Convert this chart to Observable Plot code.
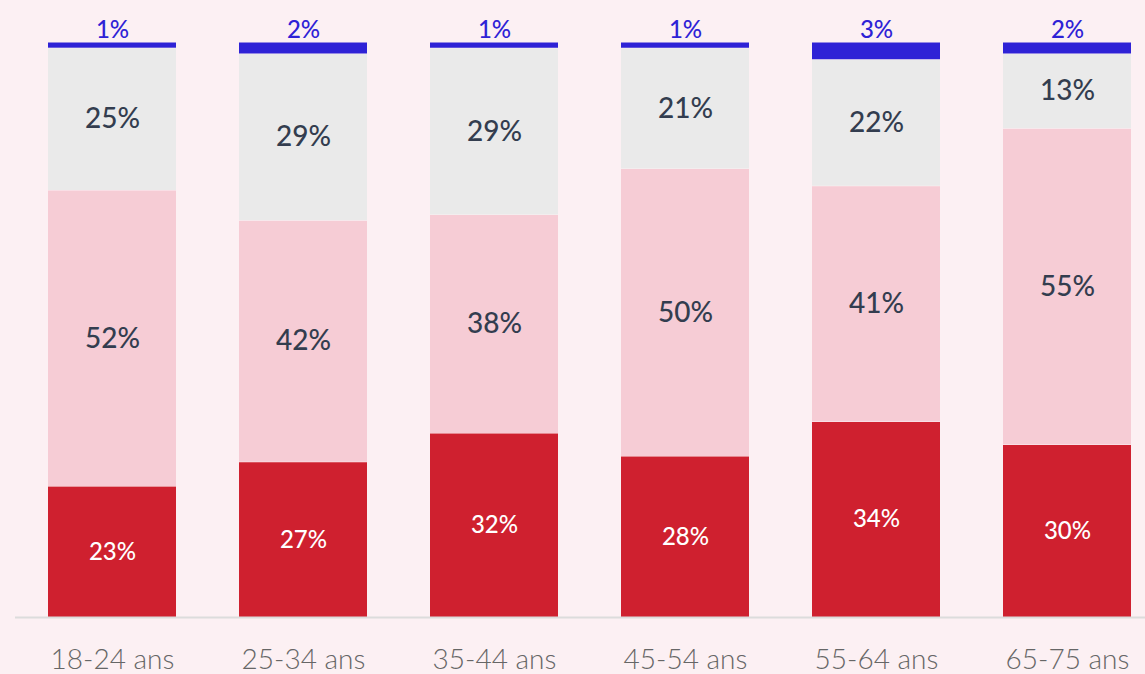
<!DOCTYPE html>
<html>
<head>
<meta charset="utf-8">
<script src="https://cdn.jsdelivr.net/npm/d3@7"></script>
<script src="https://cdn.jsdelivr.net/npm/@observablehq/plot@0.6"></script>
<style>
  html, body { margin: 0; padding: 0; background: #fcf0f3; }
  #chart svg { display: block; }
</style>
</head>
<body>
<div id="chart"></div>
<script>
const ages = ["18-24 ans", "25-34 ans", "35-44 ans", "45-54 ans", "55-64 ans", "65-75 ans"];
const segments = ["rouge", "rose", "gris", "bleu"];
const rouge = [23, 27, 32, 28, 34, 30];
const rose  = [52, 42, 38, 50, 41, 55];
const gris  = [25, 29, 29, 21, 22, 13];
const bleu  = [1, 2, 1, 1, 3, 2];
const colors = {rouge: "#cf202f", rose: "#f6ccd5", gris: "#eaeaea", bleu: "#2e22d6"};
const labelColors = {rouge: "#ffffff", rose: "#333d4f", gris: "#333d4f", bleu: "#2e22d6"};
const labelSizes = {rouge: 24, rose: 28, gris: 28, bleu: 24};

const series = {rouge, rose, gris, bleu};
const data = [];
ages.forEach((age, i) => {
  segments.forEach(seg => {
    data.push({age, seg, value: series[seg][i], label: series[seg][i] + "%"});
  });
});

const stackOpts = {x: "age", y: "value", z: "seg", order: segments, offset: "normalize"};
const font = "Lato, 'Open Sans', sans-serif";

const chart = Plot.plot({
  width: 1145,
  height: 674,
  marginTop: 42,
  marginBottom: 57,
  marginLeft: 15,
  marginRight: 0,
  style: {background: "#fcf0f3", fontFamily: font},
  x: {domain: ages, paddingInner: 0.33, paddingOuter: 0.12, align: 0.7, label: null, tickSize: 0},
  y: {domain: [0, 1], axis: null},
  marks: [
    Plot.barY(data, Plot.stackY({...stackOpts, fill: d => colors[d.seg], insetTop: 0.5})),
    Plot.ruleY([0], {stroke: "#dcdcdc", strokeWidth: 2}),
    Plot.text(data, Plot.stackY({...stackOpts,
      text: d => d.seg !== "bleu" ? d.label : null,
      fill: d => labelColors[d.seg],
      fontSize: d => labelSizes[d.seg],
      fontWeight: 500})),
    Plot.text(data, Plot.stackY2({...stackOpts,
      text: d => d.seg === "bleu" ? d.label : null,
      fill: labelColors.bleu, fontSize: 24, fontWeight: 500, dy: -12})),
    Plot.axisX({tickSize: 0, tickPadding: 32, fontSize: 28, fill: "#666666", fontWeight: 300, label: null})
  ]
});
document.getElementById("chart").appendChild(chart);
</script>
</body>
</html>
